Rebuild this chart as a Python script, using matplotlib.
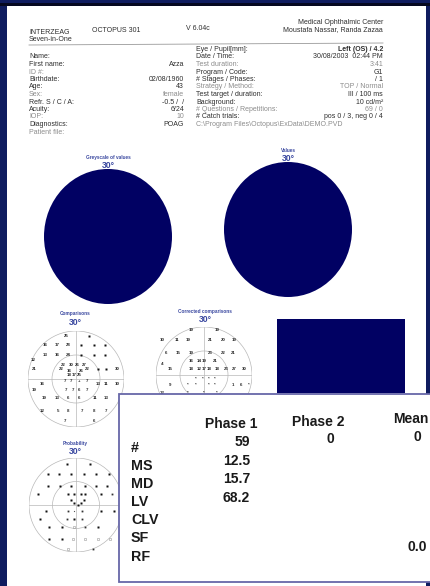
import matplotlib
matplotlib.use('Agg')
import matplotlib.pyplot as plt
from matplotlib.patches import Rectangle, Circle

W, H = 431, 586
NAVY = '#0f1c5f'
DISC = '#010163'
INK = '#2e2e2e'
FADED = '#8c8c8c'
TITLE_BLUE = '#3a48a0'
FONT = 'Liberation Sans'

# ---- report header ----
maker_lines = ['INTERZEAG', 'Seven-in-One']
device_name = 'OCTOPUS 301'
software_version = 'V 6.04c'
clinic_lines = ['Medical Ophthalmic Center', 'Moustafa Nassar, Randa Zazaa']

patient_labels = ['Name:', 'First name:', 'ID #:', 'Birthdate:', 'Age:', 'Sex:',
                  'Refr. S / C / A:', 'Acuity:', 'IOP:', 'Diagnostics:', 'Patient file:']
patient_values = ['', 'Azza', '', '02/08/1960', '43', 'female', '-0.5 /  /',
                  '6/24', '10', 'POAG', '']
test_labels = ['Eye / Pupil[mm]:', 'Date / Time:', 'Test duration:', 'Program / Code:',
               '# Stages / Phases:', 'Strategy / Method:', 'Test target / duration:',
               'Background:', '# Questions / Repetitions:', '# Catch trials:',
               'C:\\Program Files\\Octopus\\ExData\\DEMO.PVD']
test_values = ['Left (OS) / 4.2', '30/08/2003  02:44 PM', '3:41', 'G1', '/ 1',
               'TOP / Normal', 'III / 100 ms', '10 cd/m²', '69 / 0',
               'pos 0 / 3, neg 0 / 4', '']
faded_rows = [2, 5, 8, 10]

# ---- visual field panels ----
field_titles = ['Greyscale of values', 'Values', 'Comparisons',
                'Corrected comparisons', 'Probability']
field_extent = '30°'

# Comparisons: test location (deg) and printed loss in dB ('■' = full defect)
comp_x = [-6, 8, -19, -12, -5, 3, 11, 18, -19, -12, -5, 3, 11, 18, -27,
          -8, -3, 1, 5, -26, -9, -4, 3, 7, 14, 19, 26, -4, -1, 2,
          -7, -3, 2, 7, -21, 14, 19, 26, -26, -6, -2, 2, 7,
          -20, -12, -5, 2, 12, 19, -21, -11, -5, 4, 11, 19, -7, 11]
comp_y = [27, 27, 21, 21, 21, 21, 21, 21, 15, 15, 15, 15, 15, 15, 12,
          9, 9, 9, 9, 6, 6, 5, 5, 6, 6, 6, 6, 2.5, 2.5, 2.5,
          -1, -1, -1, -1, -3, -3, -3, -3, -7, -7, -7, -7, -7,
          -12, -12, -12, -12, -12, -12, -20, -20, -20, -20, -20, -20, -26, -26]
comp_v = ['25', '■', '16', '17', '28', '■', '■', '■', '13', '16', '24', '■', '■', '■', '12',
          '22', '30', '26', '27', '21', '22', '16', '26', '22', '■', '■', '30', '18', '17', '25',
          '7', '7', '+', '7', '16', '13', '11', '10', '19', '7', '7', '6', '7',
          '19', '13', '6', '6', '11', '13', '12', '5', '8', '7', '8', '7', '7', '6']

# Corrected comparisons
corr_x = [-8, 8, -26, -17, -10, 4, 12, 19, -24, -16, -8, 4, 12, 18,
          -8, -3, 0, 7, -26, -21, -8, -3, 0, 3, 8, 14, 19, 25,
          -5, -1, 3, 7, -21, -10, -5, 3, 7, 18, 23, 28, -26, -10, 0, 8]
corr_y = [28, 28, 22, 22, 22, 22, 22, 22, 14, 14, 14, 14, 14, 14,
          9, 9, 9, 9, 7, 4, 4, 4, 4, 4, 4, 4, 4, 4,
          -2, -2, -2, -2, -6, -6, -6, -6, -6, -6, -6, -6, -11, -11, -11, -11]
corr_v = ['19', '19', '10', '11', '19', '21', '20', '19', '6', '15', '19', '23', '22', '21',
          '16', '14', '19', '21', '4', '15', '18', '12', '17', '18', '18', '23', '27', '30',
          '*', '*', '*', '*', '9', '*', '*', '*', '*', '1', '6', '*', '12', '*', '*', '*']

# Probability: b = p<0.5%, s = p<1%, d = p<2%, g = p<5%
prob_x = [-6, 9, -18, -11, -3, 5, 13, 21, -18, -10, -3, 6, 13, 20,
          -24, -5, -1, 3, 6, 16, 23, -3, -1, 1, 3, 5,
          -19, -5, -1, 4, 16, 24, -23, -6, -1, 4,
          -17, -9, -1, 6, 14, -17, -9, -2, 6, 14, 22, -5, 11]
prob_y = [26, 26, 20, 20, 20, 20, 20, 20, 12, 12, 12, 12, 12, 12,
          7, 7, 7, 7, 7, 7, 7, 3, 1.5, 0, 1.5, 3,
          -4, -4, -4, -4, -4, -4, -9, -9, -9, -9,
          -14, -14, -14, -14, -14, -22, -22, -22, -22, -22, -22, -28, -28]
prob_c = ['b', 'b', 'b', 'b', 'b', 'b', 'b', 'b', 'b', 'b', 'b', 'b', 'b', 'b',
          'b', 'b', 'b', 'b', 'b', 'b', 's', 'b', 'b', 'b', 'b', 'b',
          'b', 's', 'd', 's', 'b', 'b', 'b', 's', 'b', 's',
          'b', 'b', 'g', 's', 'b', 'b', 'b', 'g', 'g', 'g', 'g', 'g', 's']

# ---- global indices ----
index_rows = ['#', 'MS', 'MD', 'LV', 'CLV', 'SF', 'RF']
phase_headers = ['Phase 1', 'Phase 2', 'Mean']
phase1_values = ['59', '12.5', '15.7', '68.2', '', '', '']
phase2_values = ['0', '', '', '', '', '', '']
mean_values = ['0', '', '', '', '', '0.0', '']


def px_axes(fig, x0, y0, x1, y1, **kw):
    """Axes placed by pixel box (top-left origin)."""
    return fig.add_axes([x0 / W, 1 - y1 / H, (x1 - x0) / W, (y1 - y0) / H], **kw)


fig = plt.figure(figsize=(W / 100, H / 100), dpi=100, facecolor=NAVY)
page = px_axes(fig, 0, 0, W, H, zorder=0)
page.set_xlim(0, W)
page.set_ylim(H, 0)
page.axis('off')

page.add_patch(Rectangle((7, 5), 419, H, facecolor='white', edgecolor='none'))
page.add_patch(Rectangle((0, 3), W, 2.5, facecolor='#050820', edgecolor='none'))

t = dict(family=FONT, fontsize=5.0, va='center')
page.text(29, 32, maker_lines[0], color=INK, **t)
page.text(29, 39.5, maker_lines[1], color=INK, **t)
page.text(92, 30, device_name, color=INK, **t)
page.text(186, 28, software_version, color=INK, **t)
page.text(383, 22, clinic_lines[0], color=INK, ha='right', **t)
page.text(383, 30, clinic_lines[1], color=INK, ha='right', **t)
page.plot([29, 383], [45, 43], color='#9a9a9a', lw=0.6)

for i, (lab, val) in enumerate(zip(patient_labels, patient_values)):
    c = FADED if i in faded_rows else INK
    y = 57 + 7.5 * i
    page.text(29, y, lab, color=c, **t)
    page.text(184, y, val, color=c, ha='right', **t)

for i, (lab, val) in enumerate(zip(test_labels, test_values)):
    c = FADED if i in faded_rows else INK
    y = 49.5 + 7.5 * i
    page.text(196, y, lab, color=c, **t)
    page.text(383, y, val, color=c, ha='right',
              fontweight='bold' if i == 0 else 'normal', **t)


def title(x, y, name):
    page.text(x, y, name, family=FONT, fontsize=3.4, color=TITLE_BLUE,
              ha='center', va='center', fontweight='bold')
    page.text(x, y + 8.5, field_extent, family=FONT, fontsize=6.2, color=TITLE_BLUE,
              ha='center', va='center', fontweight='bold')


# large greyscale / values discs
for (x0, y0, x1, y1), name, ty in [((44, 169, 172, 304), field_titles[0], 157),
                                    ((224, 162, 352, 297), field_titles[1], 150)]:
    ax = px_axes(fig, x0, y0, x1, y1, zorder=1)
    ax.set_xlim(-30, 30)
    ax.set_ylim(-30, 30)
    ax.axis('off')
    ax.add_patch(Circle((0, 0), 30, facecolor=DISC, edgecolor='none'))
    title((x0 + x1) / 2, ty, name)


def field_frame(ax):
    ax.set_xlim(-30, 30)
    ax.set_ylim(-30, 30)
    ax.axis('off')
    for r in (30, 15):
        ax.add_patch(Circle((0, 0), r, facecolor='none', edgecolor='#b8b8b8', lw=0.5))
    ax.plot([-30, 30], [0, 0], color='#b8b8b8', lw=0.5)
    ax.plot([0, 0], [-30, 30], color='#b8b8b8', lw=0.5)


def numbers(ax, xs, ys, vs):
    for x, y, v in zip(xs, ys, vs):
        if v == '■':
            ax.plot(x, y, marker='s', ms=1.7, color='#111111', mec='none')
        else:
            ax.text(x, y, v, family=FONT, fontsize=3.2, color='#2a2a2a',
                    ha='center', va='center', fontweight='bold')


# comparisons
ax = px_axes(fig, 28, 331, 124, 427, zorder=1)
field_frame(ax)
numbers(ax, comp_x, comp_y, comp_v)
title(75, 314, field_titles[2])

# corrected comparisons
ax = px_axes(fig, 156, 327, 252, 423, zorder=1)
field_frame(ax)
numbers(ax, corr_x, corr_y, corr_v)
title(205, 311, field_titles[3])

# probability
ax = px_axes(fig, 29, 458, 123, 552, zorder=1)
field_frame(ax)
style = {'b': (1.9, '#111111', 'none'), 's': (1.3, '#333333', 'none'),
         'd': (0.8, '#555555', 'none'), 'g': (1.5, 'none', '#9a9a9a')}
for x, y, c in zip(prob_x, prob_y, prob_c):
    ms, fc, ec = style[c]
    ax.plot(x, y, marker='s', ms=ms, mfc=fc, mec=ec, mew=0.4, ls='none')
title(75, 443, field_titles[4])

# dark legend block
page.add_patch(Rectangle((277, 319), 128, 74, facecolor=DISC, edgecolor='none'))

# global indices panel (overlay)
tab = px_axes(fig, 0, 0, W, H, zorder=5)
tab.patch.set_alpha(0)
tab.set_xlim(0, W)
tab.set_ylim(H, 0)
tab.axis('off')
tab.add_patch(Rectangle((119, 394), 330, 188, facecolor='white',
                        edgecolor='#6767a8', lw=1.3))
b = dict(family=FONT, fontweight='bold', color='#1a1a1a', va='center')
for i, lab in enumerate(index_rows):
    tab.text(131, 447.5 + 18.2 * i, lab, fontsize=10.3, **b)
tab.text(231, 424, phase_headers[0], fontsize=10, ha='center', **b)
tab.text(318, 422, phase_headers[1], fontsize=10, ha='center', **b)
tab.text(393, 419, phase_headers[2], fontsize=10, ha='left', **b)
for i, v in enumerate(phase1_values):
    tab.text(250, 442 + 18.6 * i, v, fontsize=10, ha='right', **b)
for i, v in enumerate(phase2_values):
    tab.text(330, 439 + 18.6 * i, v, fontsize=10, ha='center', **b)
for i, v in enumerate(mean_values):
    y = 437 if i == 0 else 547
    tab.text(417, y, v, fontsize=10, ha='center', **b)

fig.savefig('out.png', dpi=100, facecolor=NAVY)
